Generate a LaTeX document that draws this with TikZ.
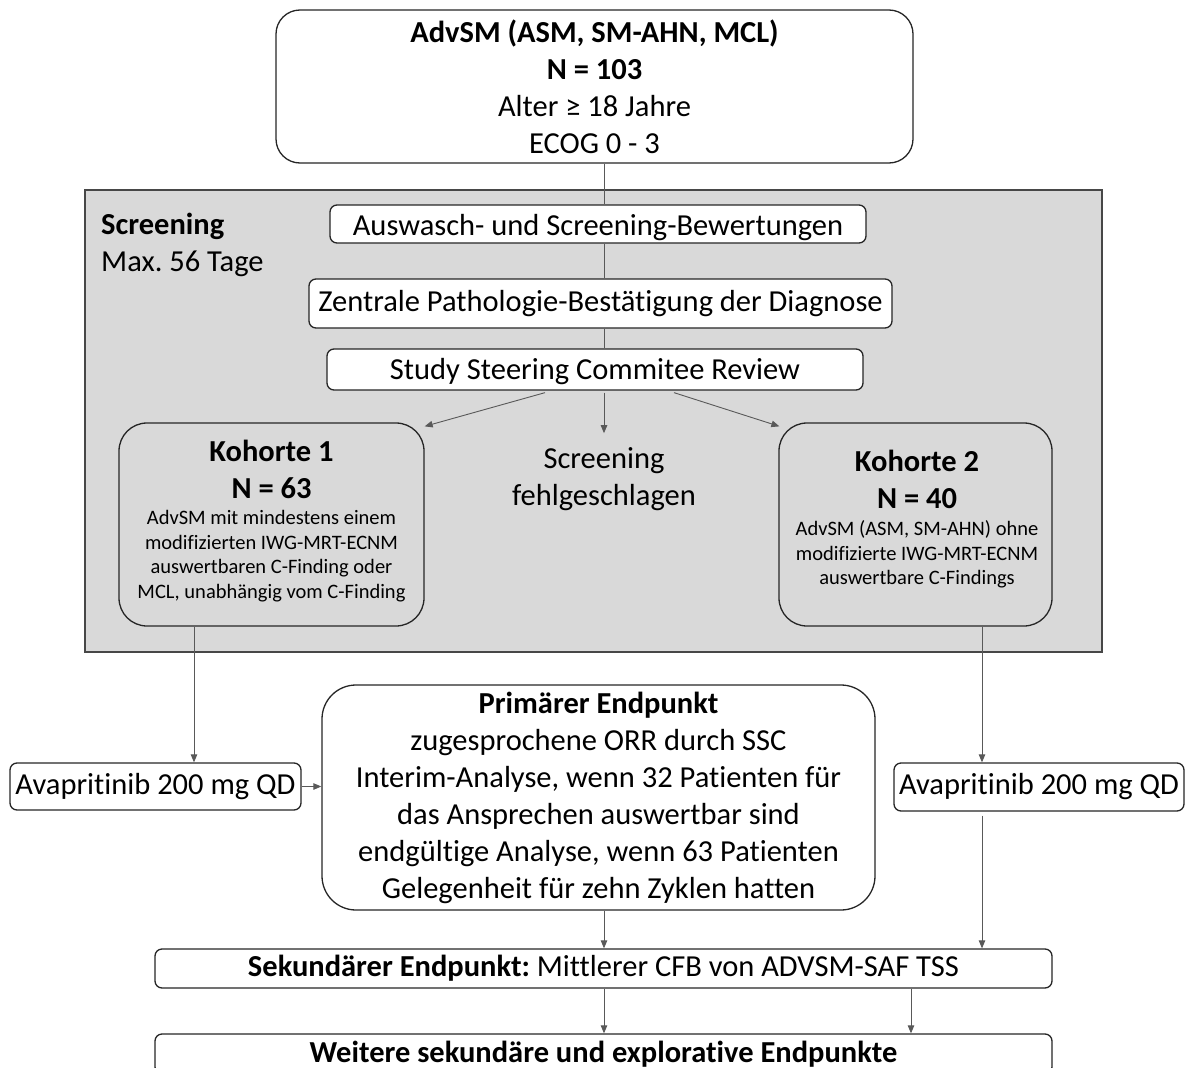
\documentclass[tikz,border=0pt]{standalone}
\usepackage{fontspec}
\setmainfont{Carlito}[Ligatures=NoCommon]
\usetikzlibrary{arrows.meta,calc}
\definecolor{panelgrey}{HTML}{D9D9D9}
\definecolor{boxline}{HTML}{262626}
\definecolor{connline}{HTML}{595959}
\tikzset{
  x=1pt, y=-1pt,
  bigfont/.style={font=\fontsize{30.5}{37}\selectfont},
  smallfont/.style={font=\fontsize{20.5}{24.7}\selectfont},
  wbox/.style={draw=boxline, line width=1.3pt, rounded corners=7pt, fill=white,
    inner sep=0pt, bigfont, align=center},
  roundbox/.style={draw=boxline, line width=1.3pt, rounded corners=28pt,
    inner sep=0pt, bigfont, align=center},
  panel/.style={draw=boxline!85, line width=1.8pt, fill=panelgrey, inner sep=0pt},
  txt/.style={inner sep=0pt, align=center},
  conn/.style={draw=connline, line width=0.9pt},
  arr/.style={conn, -{Triangle[length=8pt,width=6.5pt]}},
}
\frenchspacing
\begin{document}
\begin{tikzpicture}
\useasboundingbox (0,0) rectangle (1192,1068);
\clip (0,0) rectangle (1192,1068);

% x positions of vertical connectors
\coordinate (spine) at (604,0);
\coordinate (leftx) at (194,0);
\coordinate (rightx) at (982,0);
\coordinate (sekx) at (911,0);

% top box
\node[roundbox, rounded corners=24pt, fill=white, minimum width=637pt, minimum height=153pt]
  (top) at (594.5,86.5)
  {\textbf{AdvSM (ASM, SM-AHN, MCL)}\\\textbf{N = 103}\\Alter ≥ 18 Jahre\\ECOG 0 - 3};

% screening panel
\node[panel, minimum width=1017pt, minimum height=462pt] (panel) at (593.5,421) {};
\node[txt, bigfont, anchor=west, align=left] (scrlabel) at (101,244.5)
  {\textbf{Screening}\\Max. 56 Tage};

\node[wbox, minimum width=536pt, minimum height=38pt, text height=23pt, text depth=0pt]
  (aus) at (598,224)
  {Auswasch- und Screening-Bewertungen};
\node[wbox, minimum width=583pt, minimum height=49pt] (zen) at (600.5,303.5)
  {Zentrale Pathologie-Bestätigung der Diagnose};
\node[wbox, minimum width=536pt, minimum height=41pt, text height=21pt, text depth=2pt]
  (ssc) at (595,369.5)
  {Study Steering Commitee Review};

% cohorts
\node[roundbox, minimum width=305pt, minimum height=203pt] (k1) at (271.5,524.5) {};
\node[txt, bigfont] (k1t) at (271.5,469) {\textbf{Kohorte 1}\\\textbf{N = 63}};
\node[txt, smallfont] (k1d) at (271.5,556)
  {AdvSM mit mindestens einem\\modifizierten IWG-MRT-ECNM\\auswertbaren C-Finding oder\\MCL, unabhängig vom C-Finding};

\node[txt, bigfont] (fail) at (604,479) {Screening\\fehlgeschlagen};

\node[roundbox, minimum width=273pt, minimum height=203pt] (k2) at (915.5,524.5) {};
\node[txt, bigfont] (k2t) at (917,479.5) {\textbf{Kohorte 2}\\\textbf{N = 40}};
\node[txt, smallfont] (k2d) at (917,554.5)
  {AdvSM (ASM, SM-AHN) ohne\\modifizierte IWG-MRT-ECNM\\auswertbare C-Findings};

% treatment
\node[wbox, minimum width=291pt, minimum height=47pt] (ava1) at (155.5,786.5)
  {Avapritinib 200 mg QD};
\node[wbox, minimum width=290pt, minimum height=48pt] (ava2) at (1039,787)
  {Avapritinib 200 mg QD};

\node[roundbox, rounded corners=34pt, fill=white, minimum width=553pt, minimum height=225pt]
  (prim) at (598.5,797.5)
  {\textbf{Primärer Endpunkt}\\zugesprochene ORR durch SSC\\Interim-Analyse, wenn 32 Patienten für\\das Ansprechen auswertbar sind\\endgültige Analyse, wenn 63 Patienten\\Gelegenheit für zehn Zyklen hatten};

\node[wbox, minimum width=897pt, minimum height=39pt] (sek) at (603.5,968.5)
  {\textbf{Sekundärer Endpunkt:} Mittlerer CFB von ADVSM-SAF TSS};
\node[wbox, minimum width=897pt, minimum height=40pt] (weit) at (603.5,1054)
  {\textbf{Weitere sekundäre und explorative Endpunkte}};

% connectors
\draw[conn] (top.south -| spine) -- (aus.north -| spine);
\draw[conn] (aus.south -| spine) -- (zen.north -| spine);
\draw[conn] (zen.south -| spine) -- (ssc.north -| spine);
\draw[arr] ($(ssc.south)+(-50,2)$) -- ($(k1.north east)+(0,4)$);
\draw[arr] ($(ssc.south -| spine)+(0,2)$) -- ($(fail.north)+(0,-14)$);
\draw[arr] ($(ssc.south)+(79,2)$) -- ($(k2.north west)+(1,4)$);

\draw[arr] (k1.south -| leftx) -- (ava1.north -| leftx);
\draw[arr] (ava1.east) -- (ava1.east -| prim.west);
\draw[arr] (k2.south -| rightx) -- (ava2.north -| rightx);
\draw[arr] ($(ava2.south -| rightx)+(0,4)$) -- (sek.north -| rightx);
\draw[arr] (prim.south -| spine) -- (sek.north -| spine);
\draw[arr] (sek.south -| spine) -- (weit.north -| spine);
\draw[arr] (sek.south -| sekx) -- (weit.north -| sekx);
\end{tikzpicture}
\end{document}
